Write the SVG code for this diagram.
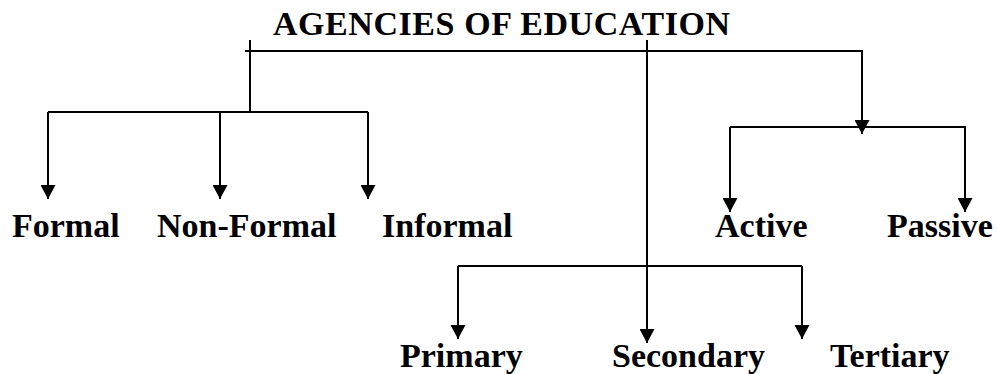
<svg xmlns="http://www.w3.org/2000/svg" width="997" height="374" viewBox="0 0 997 374">
<style>
.t{font-family:"Liberation Serif","Times New Roman",serif;font-weight:bold;font-size:34px;fill:#000}
.c{stroke:#000;stroke-width:2;fill:none}
</style>
<defs>
<marker id="ah" viewBox="0 0 14 15" refX="14" refY="7.5" markerWidth="14" markerHeight="15" markerUnits="userSpaceOnUse" orient="auto">
<path d="M0,0 L14,7.5 L0,15 Z" fill="#000"/>
</marker>
</defs>
<rect width="997" height="374" fill="#fff"/>
<g id="connectors">
<line class="c" x1="245" y1="51" x2="863" y2="51"/>
<line class="c" x1="250" y1="40" x2="250" y2="112"/>
<line class="c" x1="48" y1="112" x2="368" y2="112"/>
<line class="c" x1="48" y1="112" x2="48" y2="199" marker-end="url(#ah)"/>
<line class="c" x1="220" y1="112" x2="220" y2="199" marker-end="url(#ah)"/>
<line class="c" x1="368" y1="112" x2="368" y2="199" marker-end="url(#ah)"/>
<line class="c" x1="862" y1="51" x2="862" y2="134" marker-end="url(#ah)"/>
<line class="c" x1="730" y1="127" x2="966" y2="127"/>
<line class="c" x1="730" y1="127" x2="730" y2="212" marker-end="url(#ah)"/>
<line class="c" x1="965" y1="127" x2="965" y2="212" marker-end="url(#ah)"/>
<line class="c" x1="647" y1="40" x2="647" y2="343" marker-end="url(#ah)"/>
<line class="c" x1="458" y1="266" x2="802" y2="266"/>
<line class="c" x1="458" y1="266" x2="458" y2="339" marker-end="url(#ah)"/>
<line class="c" x1="802" y1="266" x2="802" y2="339" marker-end="url(#ah)"/>
</g>
<g id="root"><text class="t" x="273" y="35" textLength="457">AGENCIES OF EDUCATION</text></g>
<g id="formal"><text class="t" x="12" y="237">Formal</text></g>
<g id="nonformal"><text class="t" x="157" y="237">Non-Formal</text></g>
<g id="informal"><text class="t" x="382" y="237">Informal</text></g>
<g id="active"><text class="t" x="715" y="237">Active</text></g>
<g id="passive"><text class="t" x="887" y="237">Passive</text></g>
<g id="primary"><text class="t" x="400" y="367">Primary</text></g>
<g id="secondary"><text class="t" x="612" y="367">Secondary</text></g>
<g id="tertiary"><text class="t" x="830" y="367">Tertiary</text></g>
</svg>
